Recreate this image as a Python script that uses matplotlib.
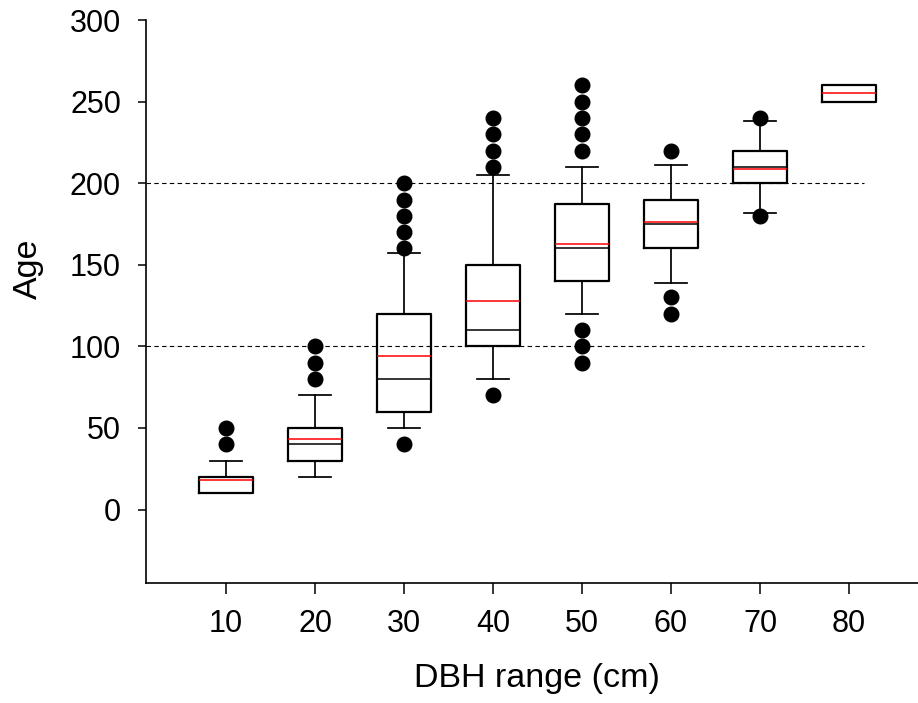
import matplotlib
matplotlib.use("Agg")
import matplotlib.pyplot as plt

plt.rcParams['font.family'] = ['Liberation Sans', 'DejaVu Sans']

# DBH classes (cm) and age summaries
dbh = [10, 20, 30, 40, 50, 60, 70, 80]
q1 = [10, 30, 60, 100, 140, 160, 200, 250]
med = [20, 40, 80, 110, 160, 175, 210, 260]
q3 = [20, 50, 120, 150, 187, 190, 220, 260]
mean = [18, 43.5, 94, 128, 163, 176, 209, 255]
whislo = [10, 20, 50, 80, 120, 139, 182, 250]
whishi = [30, 70, 157, 205, 210, 211, 238, 260]
fliers = [
    [40, 50],
    [80, 90, 100],
    [40, 160, 170, 180, 190, 200],
    [70, 210, 220, 230, 240],
    [90, 100, 110, 220, 230, 240, 250, 260],
    [120, 130, 220],
    [180, 240],
    [],
]
ref_lines = [100, 200]

stats = []
for i in range(len(dbh)):
    stats.append(dict(q1=q1[i], med=med[i], q3=q3[i], mean=mean[i],
                      whislo=whislo[i], whishi=whishi[i], fliers=fliers[i]))

fig = plt.figure(figsize=(9.18, 7.03), dpi=100)
ax = fig.add_axes([146 / 918, 120 / 703, 1 - 146 / 918, 563 / 703])

ax.hlines(ref_lines, 1, 81.7, colors='black', linewidth=0.8,
          linestyles=(0, (4, 3)), zorder=1)

ax.bxp(stats, positions=dbh, widths=6, capwidths=3.6,
       showmeans=True, meanline=True,
       boxprops=dict(color='black', linewidth=1.6),
       whiskerprops=dict(color='black', linewidth=1.25),
       capprops=dict(color='black', linewidth=1.25),
       medianprops=dict(color='black', linewidth=1.1),
       meanprops=dict(color='red', linestyle='-', linewidth=1.1),
       flierprops=dict(marker='o', markerfacecolor='black',
                       markeredgecolor='black', markersize=10.5))

ax.set_xlim(1, 87.75)
ax.set_ylim(-45, 300)
ax.set_xticks(dbh)
ax.set_xticklabels([str(d) for d in dbh])
ax.set_yticks([0, 50, 100, 150, 200, 250, 300])

for s in ['top', 'right']:
    ax.spines[s].set_visible(False)
for s in ['left', 'bottom']:
    ax.spines[s].set_linewidth(1.2)

ax.tick_params(axis='both', direction='out', width=1.1,
               labelsize=22, colors='black')
ax.tick_params(axis='x', length=8, pad=11)
ax.tick_params(axis='y', length=6, pad=12)

ax.set_xlabel('DBH range (cm)', fontsize=24.5)
ax.set_ylabel('Age', fontsize=24.5)
ax.xaxis.set_label_coords(0.506, -0.142)
ax.yaxis.set_label_coords(-0.132, 0.558)

fig.savefig('out.png', dpi=100)
